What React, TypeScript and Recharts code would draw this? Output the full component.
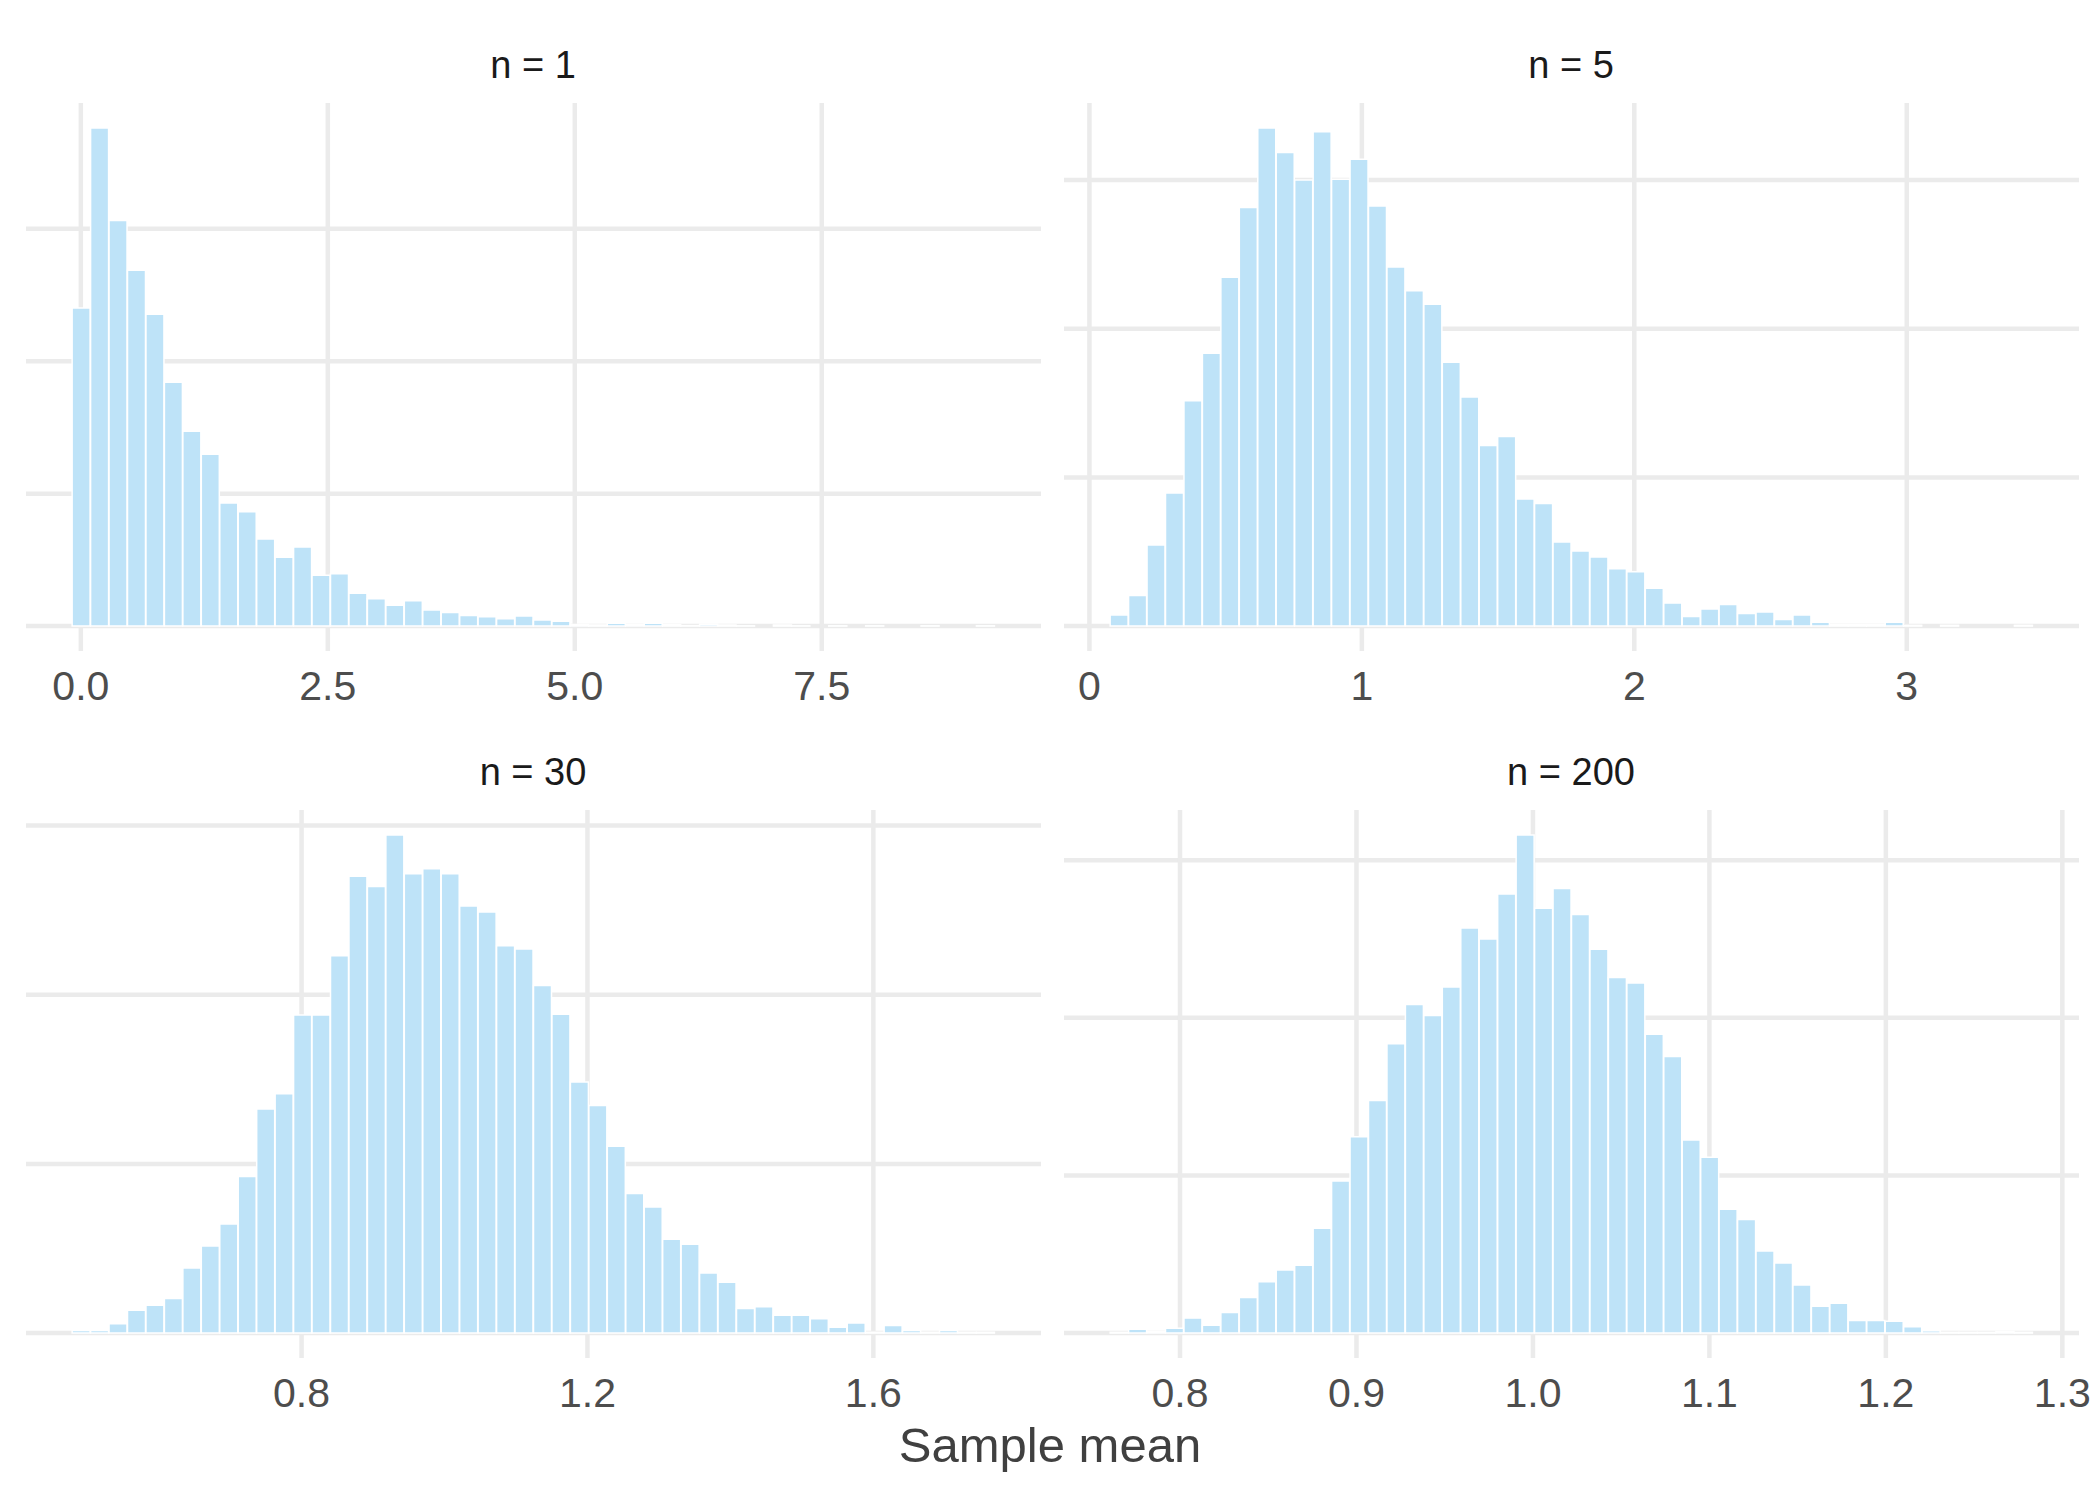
import { BarChart, Bar, XAxis, YAxis, CartesianGrid } from "recharts";

const countsN1 = [
  1201, 1881, 1531, 1344, 1177, 921, 736, 649, 465, 432,
  329, 260, 299, 192, 198, 124, 103, 79, 96, 61,
  51, 40, 35, 28, 38, 23, 18, 6, 4, 11,
  6, 11, 5, 2, 7, 4, 1, 0, 4, 1,
  0, 1, 0, 1, 0, 0, 1, 0, 0, 1,
];
const countsN5 = [
  15, 41, 109, 179, 303, 367, 469, 563, 670, 637,
  600, 665, 601, 628, 565, 483, 451, 433, 355, 308,
  243, 255, 171, 165, 113, 101, 93, 77, 73, 51,
  31, 13, 23, 29, 17, 19, 9, 15, 5, 2,
  2, 2, 5, 1, 0, 1, 0, 0, 0, 1,
];
const countsN30 = [
  3, 3, 11, 27, 33, 41, 77, 103, 129, 185,
  265, 283, 376, 376, 446, 540, 528, 589, 543, 549,
  543, 505, 498, 458, 454, 411, 377, 297, 269, 221,
  165, 149, 111, 105, 71, 60, 29, 31, 21, 21,
  17, 7, 12, 1, 9, 3, 1, 3, 1, 1,
];
const countsN200 = [
  1, 5, 2, 6, 19, 10, 26, 45, 65, 80,
  86, 133, 193, 249, 295, 367, 417, 403, 439, 514,
  500, 557, 632, 539, 564, 531, 487, 451, 444, 379,
  351, 245, 223, 157, 144, 104, 89, 61, 34, 38,
  16, 16, 15, 8, 3, 1, 1, 1, 2, 1,
];

// outer bin edges [left, right] of each histogram
const edgesN1 = [-0.088, 9.252];
const edgesN5 = [0.076, 3.463];
const edgesN30 = [0.479, 1.77];
const edgesN200 = [0.7604, 1.2833];

const ticksN1 = [0, 2.5, 5, 7.5];
const labelsN1 = ["0.0", "2.5", "5.0", "7.5"];
const ticksN5 = [0, 1, 2, 3];
const labelsN5 = ["0", "1", "2", "3"];
const ticksN30 = [0.8, 1.2, 1.6];
const labelsN30 = ["0.8", "1.2", "1.6"];
const ticksN200 = [0.8, 0.9, 1.0, 1.1, 1.2, 1.3];
const labelsN200 = ["0.8", "0.9", "1.0", "1.1", "1.2", "1.3"];

const gridN1 = [0, 500, 1000, 1500];
const gridOther = [0, 200, 400, 600];

const FONT = '"Liberation Sans", Arial, Helvetica, sans-serif';
const PW = 1015;
const PH = 548;
const SIDE = 40;

function Panel({ title, counts, edges, ticks, labels, gridY, left, top }) {
  const [lo, hi] = edges;
  const w = (hi - lo) / counts.length;
  const data = counts.map((count, i) => ({ mid: lo + (i + 0.5) * w, count }));
  const pad = 0.05 * (hi - lo);
  const max = Math.max(...counts);

  return (
    <div style={{ position: "absolute", left: left - SIDE, top }}>
      <div
        style={{
          position: "absolute",
          left: SIDE,
          width: PW,
          top: -57,
          textAlign: "center",
          fontSize: 38,
          lineHeight: "38px",
          color: "#1A1A1A",
        }}
      >
        {title}
      </div>
      <BarChart
        width={PW + 2 * SIDE}
        height={PH + 70}
        data={data}
        margin={{ top: 0, right: SIDE, bottom: 0, left: SIDE }}
        barCategoryGap={0}
        barGap={0}
      >
        <CartesianGrid
          stroke="#EBEBEB"
          strokeWidth={4.5}
          horizontalValues={gridY}
          verticalValues={ticks}
        />
        <XAxis
          dataKey="mid"
          type="number"
          domain={[lo - pad, hi + pad]}
          allowDataOverflow
          ticks={ticks}
          interval={0}
          tickFormatter={(v) => labels[ticks.indexOf(v)]}
          tickLine={false}
          axisLine={false}
          tickSize={0}
          tickMargin={20}
          height={70}
          tick={{ fill: "#4D4D4D", fontSize: 41, fontFamily: FONT }}
        />
        <YAxis
          hide
          type="number"
          domain={[-0.05 * max, 1.05 * max]}
          allowDataOverflow
          ticks={gridY}
        />
        <Bar
          dataKey="count"
          fill="#BEE3F8"
          stroke="#FFFFFF"
          strokeWidth={1.5}
          isAnimationActive={false}
        />
      </BarChart>
    </div>
  );
}

export default function App() {
  return (
    <div
      style={{
        position: "absolute",
        left: 0,
        top: 0,
        width: 2100,
        height: 1500,
        background: "#FFFFFF",
        fontFamily: FONT,
      }}
    >
      <Panel title="n = 1" counts={countsN1} edges={edgesN1} ticks={ticksN1} labels={labelsN1} gridY={gridN1} left={25.5} top={103} />
      <Panel title="n = 5" counts={countsN5} edges={edgesN5} ticks={ticksN5} labels={labelsN5} gridY={gridOther} left={1063.5} top={103} />
      <Panel title="n = 30" counts={countsN30} edges={edgesN30} ticks={ticksN30} labels={labelsN30} gridY={gridOther} left={25.5} top={810} />
      <Panel title="n = 200" counts={countsN200} edges={edgesN200} ticks={ticksN200} labels={labelsN200} gridY={gridOther} left={1063.5} top={810} />
      <div
        style={{
          position: "absolute",
          left: 0,
          width: 2100,
          top: 1421,
          textAlign: "center",
          fontSize: 49,
          lineHeight: "49px",
          color: "#404040",
        }}
      >
        Sample mean
      </div>
    </div>
  );
}
